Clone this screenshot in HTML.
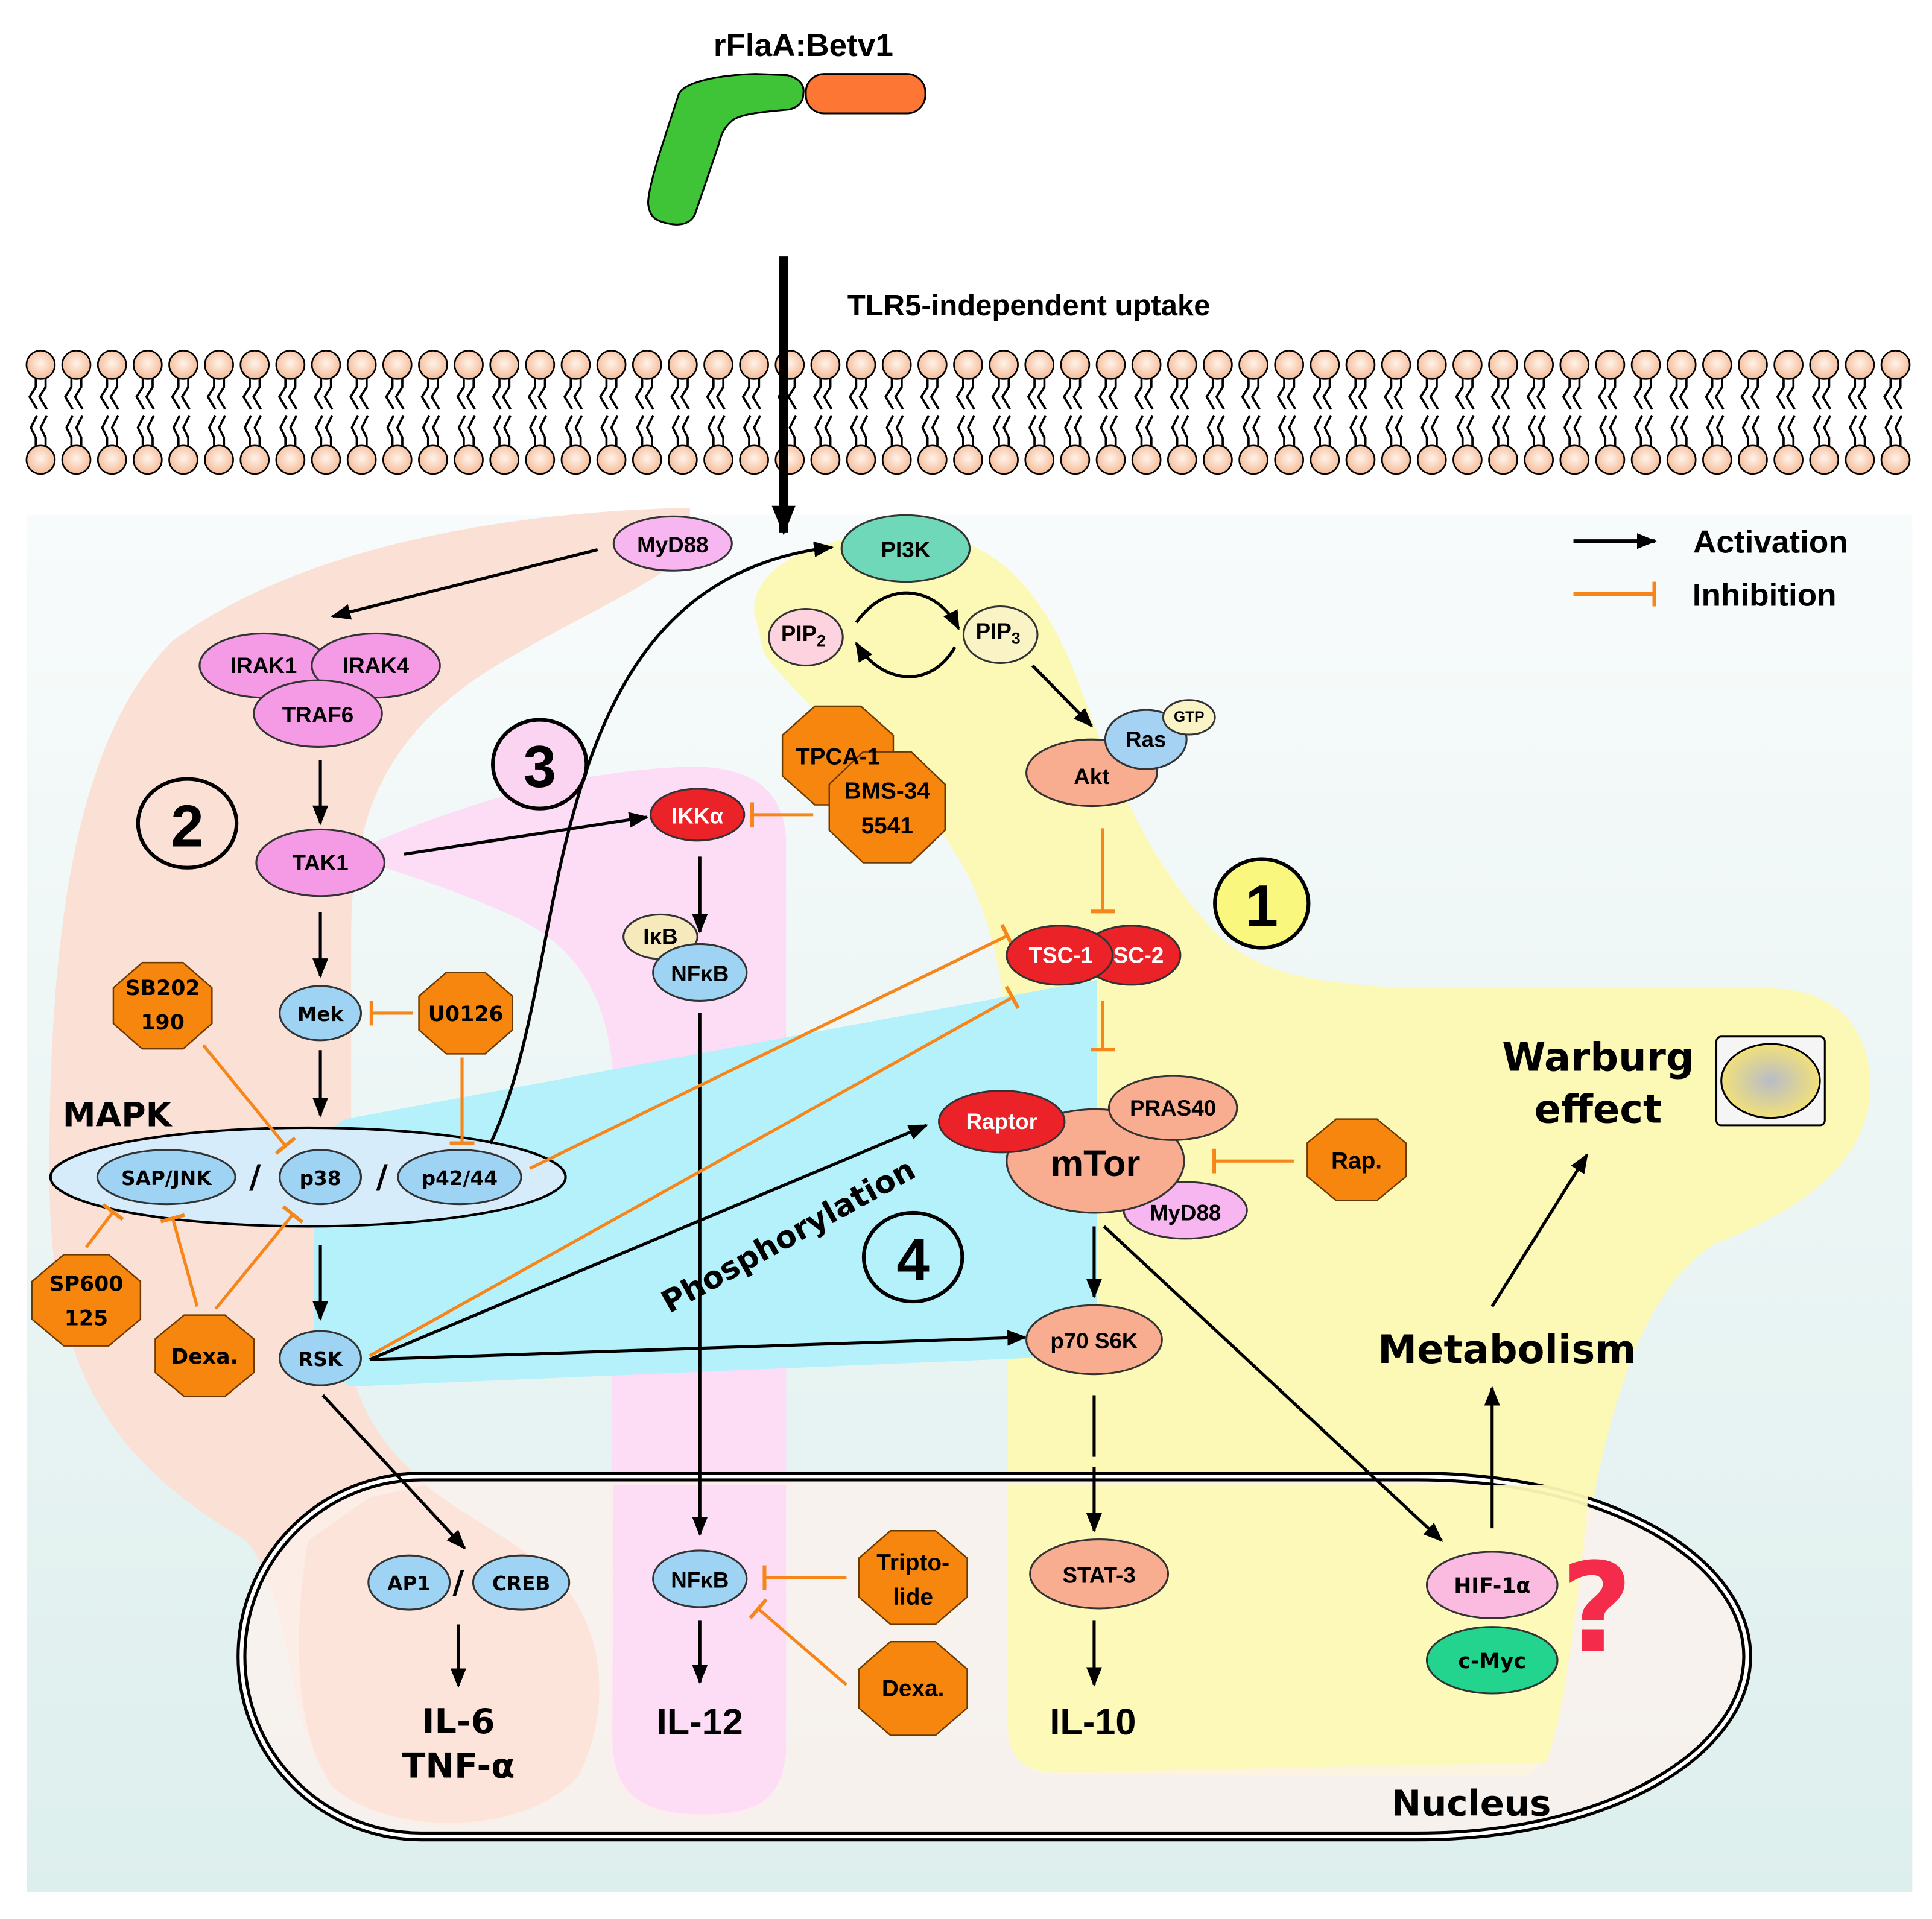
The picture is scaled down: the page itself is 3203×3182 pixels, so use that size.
<!DOCTYPE html>
<html><head><meta charset="utf-8"><style>
html,body{margin:0;padding:0;background:#fff}
svg{display:block}
text{font-family:"Liberation Sans Narrow","Liberation Sans",sans-serif;font-weight:bold;text-anchor:middle;dominant-baseline:central}
.w{font-family:"DejaVu Sans","Liberation Sans",sans-serif}
</style></head><body>
<svg width="3203" height="3182" viewBox="0 0 1568 1557" preserveAspectRatio="none" xmlns="http://www.w3.org/2000/svg">
<defs>
<linearGradient id="bg" x1="0" y1="0" x2="0" y2="1"><stop offset="0" stop-color="#f8fbfb"/><stop offset="1" stop-color="#ddefed"/></linearGradient>
<radialGradient id="head" cx="0.5" cy="0.45" r="0.6"><stop offset="0" stop-color="#fff3ea"/><stop offset="1" stop-color="#f4b690"/></radialGradient>
<radialGradient id="wb" cx="0.5" cy="0.5" r="0.5"><stop offset="0" stop-color="#b8bcc8"/><stop offset="1" stop-color="#f1e07a"/></radialGradient>
<marker id="a" viewBox="0 0 10 10" refX="9" refY="5" markerWidth="16" markerHeight="16" orient="auto" markerUnits="userSpaceOnUse"><path d="M0,1 L10,5 L0,9 z" fill="#000"/></marker>
<marker id="ab" viewBox="0 0 10 10" refX="9" refY="5" markerWidth="24" markerHeight="24" orient="auto" markerUnits="userSpaceOnUse"><path d="M0,1 L10,5 L0,9 z" fill="#000"/></marker>
<marker id="t" viewBox="0 0 4 20" refX="2" refY="10" markerWidth="4" markerHeight="20" orient="auto" markerUnits="userSpaceOnUse"><rect x="0" y="0" width="3" height="20" fill="#f7861a"/></marker>
</defs>

<rect x="22" y="418" width="1530" height="1117" fill="url(#bg)"/>

<g id="mem" stroke="#000" stroke-width="1.8" fill="none"></g>

<path d="M560,412 C420,415 250,440 140,520 C60,600 40,760 40,950 C40,1100 80,1180 200,1250 C240,1300 230,1400 270,1450 C320,1495 430,1490 470,1440 C500,1380 490,1300 430,1260 C360,1220 300,1180 285,1110 L285,760 C285,640 330,580 420,530 C480,495 540,470 560,445 Z" fill="#fbe0d6"/>
<path d="M300,685 C380,650 470,625 560,622 C610,622 635,640 638,680 L638,1420 C635,1460 615,1475 570,1475 C520,1475 495,1455 495,1410 L498,880 C495,800 460,765 420,745 C370,722 330,710 300,700 Z" fill="#fddcf6"/>
<path d="M612,495 C612,460 660,435 730,432 C800,430 840,470 870,540 C900,620 930,700 990,760 C1030,795 1080,802 1200,802 L1440,802 C1510,805 1525,860 1515,905 C1500,960 1440,990 1390,1010 C1330,1050 1300,1150 1280,1300 C1270,1380 1265,1420 1240,1440 L860,1440 C830,1440 818,1425 818,1400 L818,870 C818,790 800,720 760,670 C720,630 640,560 620,530 Z" fill="#fcf9b6"/>
<path d="M255,925 L280,908 L890,795 L890,1095 L830,1102 L285,1125 L255,1110 Z" fill="#b5f1fb"/>

<path d="M342,1198 H1150 C1310,1198 1418,1268 1418,1344 C1418,1420 1310,1490 1150,1490 H342 A146,146 0 0 1 342,1198 Z" fill="#fdf1ec" fill-opacity="0.75" stroke="#000" stroke-width="8"/>
<path d="M342,1198 H1150 C1310,1198 1418,1268 1418,1344 C1418,1420 1310,1490 1150,1490 H342 A146,146 0 0 1 342,1198 Z" fill="none" stroke="#fff" stroke-width="3"/>
<path d="M250,1250 C240,1310 235,1400 270,1450 C320,1492 430,1488 470,1440 C500,1380 490,1300 430,1262 C400,1240 370,1225 345,1205 L300,1215 Z" fill="#fbe0d6" opacity="0.75"/>
<path d="M498,1205 L638,1205 L638,1420 C635,1460 615,1472 570,1472 C520,1472 497,1455 497,1410 Z" fill="#fddcf6" opacity="0.9"/>
<path d="M818,1205 L1290,1205 C1280,1300 1270,1390 1255,1430 L860,1438 C830,1438 818,1425 818,1400 Z" fill="#fcf9b6" opacity="0.95"/>

<path d="M551,76 C556,67 580,61 613,60 L639,61 C650,64 653,70 652,76 C652,83 647,88 639,89 C615,91 600,93 594,98 C587,104 585,110 583,118 L564,174 C561,180 555,183 546,182 C532,180 527,176 526,165 C526,150 540,110 551,76 Z" fill="#3ec436" stroke="#000" stroke-width="1.5"/>
<rect x="654" y="60" width="97" height="32" rx="15" fill="#fd7634" stroke="#000" stroke-width="1.5"/>
<text x="652" y="37" font-size="26" style="font-family:'Liberation Sans',sans-serif">rFlaA:Betv1</text>

<line x1="636" y1="208" x2="636" y2="432" stroke="#000" stroke-width="7" marker-end="url(#ab)"/>
<text x="835" y="248" font-size="24" style="font-family:'Liberation Sans',sans-serif">TLR5-independent uptake</text>

<line x1="1277" y1="439" x2="1343" y2="439" stroke="#000" stroke-width="3" marker-end="url(#a)"/>
<text x="1437" y="440" font-size="26" style="font-family:'Liberation Sans',sans-serif">Activation</text>
<line x1="1277" y1="482" x2="1343" y2="482" stroke="#f7861a" stroke-width="3" marker-end="url(#t)"/>
<text x="1432" y="483" font-size="26" style="font-family:'Liberation Sans',sans-serif">Inhibition</text>

<!-- MAPK ellipse (before connectors) -->
<ellipse cx="250" cy="955" rx="209" ry="40" fill="#d6ecfa" stroke="#000" stroke-width="2"/>

<g stroke="#000" stroke-width="2.5" fill="none">
<line x1="485" y1="446" x2="270" y2="500" marker-end="url(#a)"/>
<line x1="260" y1="617" x2="260" y2="668" marker-end="url(#a)"/>
<line x1="260" y1="740" x2="260" y2="792" marker-end="url(#a)"/>
<line x1="260" y1="852" x2="260" y2="905" marker-end="url(#a)"/>
<line x1="260" y1="1010" x2="260" y2="1070" marker-end="url(#a)"/>
<line x1="328" y1="693" x2="525" y2="663" marker-end="url(#a)"/>
<path d="M398,928 C430,860 440,760 460,680 C490,560 540,460 675,444" marker-end="url(#a)"/>
<line x1="568" y1="695" x2="568" y2="756" marker-end="url(#a)"/>
<line x1="568" y1="822" x2="568" y2="1245" marker-end="url(#a)"/>
<line x1="568" y1="1315" x2="568" y2="1365" marker-end="url(#a)"/>
<path d="M695,505 C720,470 760,475 778,510" marker-end="url(#a)"/>
<path d="M775,525 C755,560 715,555 695,522" marker-end="url(#a)"/>
<line x1="838" y1="540" x2="886" y2="589" marker-end="url(#a)"/>
<line x1="300" y1="1103" x2="752" y2="913" marker-end="url(#a)"/>
<line x1="300" y1="1103" x2="832" y2="1085" marker-end="url(#a)"/>
<line x1="262" y1="1132" x2="377" y2="1256" marker-end="url(#a)"/>
<line x1="372" y1="1318" x2="372" y2="1368" marker-end="url(#a)"/>
<line x1="888" y1="995" x2="888" y2="1052" marker-end="url(#a)"/>
<line x1="896" y1="995" x2="1170" y2="1250" marker-end="url(#a)"/>
<line x1="888" y1="1132" x2="888" y2="1182"/>
<line x1="888" y1="1190" x2="888" y2="1242" marker-end="url(#a)"/>
<line x1="888" y1="1315" x2="888" y2="1367" marker-end="url(#a)"/>
<line x1="1211" y1="1240" x2="1211" y2="1126" marker-end="url(#a)"/>
<line x1="1211" y1="1060" x2="1288" y2="937" marker-end="url(#a)"/>
</g>

<g stroke="#f7861a" stroke-width="2.5" fill="none">
<line x1="660" y1="661" x2="610" y2="661" marker-end="url(#t)"/>
<line x1="895" y1="672" x2="895" y2="740" marker-end="url(#t)"/>
<line x1="895" y1="812" x2="895" y2="852" marker-end="url(#t)"/>
<line x1="1050" y1="942" x2="985" y2="942" marker-end="url(#t)"/>
<line x1="335" y1="822" x2="301" y2="822" marker-end="url(#t)"/>
<line x1="375" y1="858" x2="375" y2="928" marker-end="url(#t)"/>
<line x1="165" y1="848" x2="232" y2="930" marker-end="url(#t)"/>
<line x1="430" y1="948" x2="818" y2="759" marker-end="url(#t)"/>
<line x1="300" y1="1100" x2="822" y2="809" marker-end="url(#t)"/>
<line x1="70" y1="1012" x2="92" y2="983" marker-end="url(#t)"/>
<line x1="160" y1="1060" x2="140" y2="988" marker-end="url(#t)"/>
<line x1="175" y1="1062" x2="238" y2="985" marker-end="url(#t)"/>
<line x1="687" y1="1280" x2="620" y2="1280" marker-end="url(#t)"/>
<line x1="687" y1="1367" x2="615" y2="1305" marker-end="url(#t)"/>
</g>

<text x="95" y="905" font-size="27" class="w">MAPK</text>
<text x="207" y="955" font-size="26" class="w">/</text>
<text x="310" y="955" font-size="26" class="w">/</text>

<g stroke="#333" stroke-width="1.5">
<ellipse cx="546" cy="441" rx="48" ry="22" fill="#f7b6f0"/>
<ellipse cx="214" cy="540" rx="52" ry="26" fill="#f59be6"/>
<ellipse cx="305" cy="540" rx="52" ry="26" fill="#f59be6"/>
<ellipse cx="258" cy="579" rx="52" ry="27" fill="#f59be6"/>
<ellipse cx="260" cy="700" rx="52" ry="27" fill="#f59be6"/>
<ellipse cx="260" cy="822" rx="33" ry="22" fill="#9fd3f3"/>
<ellipse cx="135" cy="955" rx="56" ry="22" fill="#9fd3f3"/>
<ellipse cx="260" cy="955" rx="33" ry="22" fill="#9fd3f3"/>
<ellipse cx="373" cy="955" rx="50" ry="22" fill="#9fd3f3"/>
<ellipse cx="260" cy="1102" rx="33" ry="22" fill="#9fd3f3"/>
<ellipse cx="735" cy="445" rx="52" ry="27" fill="#6fd8b8"/>
<ellipse cx="654" cy="517" rx="30" ry="23" fill="#fcd3df"/>
<ellipse cx="812" cy="515" rx="30" ry="23" fill="#faf3c6"/>
<ellipse cx="886" cy="627" rx="53" ry="27" fill="#f8ad90"/>
<ellipse cx="930" cy="600" rx="33" ry="24" fill="#a5d2f2"/>
<ellipse cx="965" cy="582" rx="21" ry="14" fill="#faf3c6"/>
<ellipse cx="566" cy="661" rx="38" ry="21" fill="#eb2227"/>
<ellipse cx="536" cy="760" rx="30" ry="18" fill="#f6eabd"/>
<ellipse cx="568" cy="789" rx="38" ry="23" fill="#9fd3f3"/>
<ellipse cx="918" cy="775" rx="40" ry="24" fill="#eb2227"/>
<ellipse cx="860" cy="775" rx="43" ry="24" fill="#eb2227"/>
<ellipse cx="962" cy="982" rx="50" ry="23" fill="#f7b6f0"/>
<ellipse cx="889" cy="942" rx="72" ry="42" fill="#f8ad90"/>
<ellipse cx="952" cy="899" rx="52" ry="26" fill="#f8ad90"/>
<ellipse cx="813" cy="910" rx="51" ry="25" fill="#eb2227"/>
<ellipse cx="888" cy="1087" rx="55" ry="28" fill="#f8ad90"/>
<ellipse cx="892" cy="1277" rx="56" ry="28" fill="#f8ad90"/>
<ellipse cx="1211" cy="1286" rx="53" ry="27" fill="#fbbbe0"/>
<ellipse cx="1211" cy="1347" rx="53" ry="27" fill="#22d48e"/>
<ellipse cx="332" cy="1284" rx="33" ry="22" fill="#9fd3f3"/>
<ellipse cx="423" cy="1284" rx="39" ry="22" fill="#9fd3f3"/>
<ellipse cx="568" cy="1281" rx="38" ry="23" fill="#9fd3f3"/>
</g>
<g font-size="18">
<text x="546" y="442">MyD88</text>
<text x="214" y="540">IRAK1</text><text x="305" y="540">IRAK4</text><text x="258" y="580">TRAF6</text>
<text x="260" y="700">TAK1</text>
<text x="735" y="446">PI3K</text>
<text x="652" y="514">PIP<tspan font-size="13" dy="6">2</tspan></text>
<text x="810" y="512">PIP<tspan font-size="13" dy="6">3</tspan></text>
<text x="886" y="630">Akt</text>
<text x="930" y="600">Ras</text>
<text x="965" y="582" font-size="12">GTP</text>
<text x="566" y="662" fill="#fff">IKKα</text>
<text x="536" y="760">IκB</text>
<text x="568" y="790">NFκB</text>
<text x="861" y="775" fill="#fff">TSC-1</text><text x="924" y="775" fill="#fff">SC-2</text>
<text x="813" y="910" fill="#fff">Raptor</text>
<text x="952" y="899">PRAS40</text>
<text x="889" y="944" font-size="30">mTor</text>
<text x="962" y="984">MyD88</text>
<text x="888" y="1088">p70 S6K</text>
<text x="892" y="1278">STAT-3</text>
<text x="568" y="1282">NFκB</text>
</g>
<g font-size="16" class="w">
<text x="260" y="823" class="w">Mek</text>
<text x="135" y="956" class="w">SAP/JNK</text>
<text x="260" y="956" class="w">p38</text>
<text x="373" y="956" class="w">p42/44</text>
<text x="260" y="1103" class="w">RSK</text>
<text x="332" y="1285" class="w">AP1</text>
<text x="423" y="1285" class="w">CREB</text>
<text x="1211" y="1287" class="w" font-size="17">HIF-1α</text>
<text x="1211" y="1348" class="w" font-size="17">c-Myc</text>
</g>
<text x="372" y="1284" font-size="26" class="w">/</text>

<g id="oct" fill="#f7860e" stroke="#6b3a00" stroke-width="1.2"></g>
<g font-size="19">
<text x="680" y="614">TPCA-1</text>
<text x="720" y="642">BMS-34</text><text x="720" y="670">5541</text>
<text x="132" y="802" class="w" font-size="17">SB202</text><text x="132" y="830" class="w" font-size="17">190</text>
<text x="378" y="823" class="w" font-size="17">U0126</text>
<text x="70" y="1042" class="w" font-size="17">SP600</text><text x="70" y="1070" class="w" font-size="17">125</text>
<text x="166" y="1101" class="w" font-size="17">Dexa.</text>
<text x="1101" y="942">Rap.</text>
<text x="741" y="1268">Tripto-</text><text x="741" y="1296">lide</text>
<text x="741" y="1370">Dexa.</text>
</g>

<ellipse cx="152" cy="668" rx="40" ry="36" fill="#fbe0d6" stroke="#000" stroke-width="3"/>
<text x="152" y="670" font-size="48" style="font-family:'Liberation Sans',sans-serif">2</text>
<ellipse cx="438" cy="620" rx="38" ry="36" fill="#fbd4f1" stroke="#000" stroke-width="3"/>
<text x="438" y="622" font-size="48" style="font-family:'Liberation Sans',sans-serif">3</text>
<ellipse cx="1024" cy="733" rx="38" ry="36" fill="#faf77f" stroke="#000" stroke-width="3"/>
<text x="1024" y="735" font-size="48" style="font-family:'Liberation Sans',sans-serif">1</text>
<ellipse cx="741" cy="1020" rx="40" ry="36" fill="#b5f1fb" stroke="#000" stroke-width="3"/>
<text x="741" y="1022" font-size="48" style="font-family:'Liberation Sans',sans-serif">4</text>

<text x="640" y="1003" font-size="25" class="w" transform="rotate(-29 640 1003)">Phosphorylation</text>

<text x="372" y="1397" font-size="28" class="w">IL-6</text>
<text x="372" y="1433" font-size="28" class="w">TNF-α</text>
<text x="568" y="1397" font-size="30">IL-12</text>
<text x="887" y="1397" font-size="30">IL-10</text>
<text x="1194" y="1463" font-size="29" class="w">Nucleus</text>
<text x="1223" y="1095" font-size="32" class="w">Metabolism</text>
<text x="1297" y="858" font-size="32" class="w">Warburg</text>
<text x="1297" y="900" font-size="32" class="w">effect</text>
<rect x="1393" y="841" width="88" height="72" rx="4" fill="#f5f5f5" stroke="#000" stroke-width="1.5"/>
<ellipse cx="1437" cy="877" rx="40" ry="30" fill="url(#wb)" stroke="#000" stroke-width="1.5"/>
<text x="1296" y="1305" font-size="100" fill="#f42b4b" class="w">?</text>
</svg>
<script>
(function(){
 var ns="http://www.w3.org/2000/svg";
 var m=document.getElementById("mem");
 for(var i=0;i<53;i++){
  var x=33+i*28.95;
  var p=document.createElementNS(ns,"path");
  p.setAttribute("d","M"+(x-4)+",307 L"+(x-4)+",314 L"+(x-9)+",322 L"+(x-3)+",332 M"+(x+4)+",307 L"+(x+4)+",314 L"+(x-1)+",322 L"+(x+5)+",332 M"+(x-3)+",337 L"+(x-8)+",347 L"+(x-4)+",355 L"+(x-4)+",363 M"+(x+5)+",337 L"+(x)+",347 L"+(x+4)+",355 L"+(x+4)+",363");
  m.appendChild(p);
  [296,373].forEach(function(y){var c=document.createElementNS(ns,"circle");c.setAttribute("cx",x);c.setAttribute("cy",y);c.setAttribute("r",11.5);c.setAttribute("fill","url(#head)");c.setAttribute("stroke-width","1.3");m.appendChild(c);});
 }
 var o=document.getElementById("oct");
 [[680,613,45,40],[720,655,47,45],[132,816,40,35],[378,822,38,33],[70,1055,44,37],[166,1100,40,33],[1101,941,40,33],[741,1280,44,38],[741,1370,44,38]].forEach(function(d){
  var cx=d[0],cy=d[1],rx=d[2],ry=d[3],pts=[];
  for(var k=0;k<8;k++){var a=Math.PI/8+k*Math.PI/4;pts.push((cx+rx*Math.cos(a)/Math.cos(Math.PI/8))+","+(cy+ry*Math.sin(a)/Math.cos(Math.PI/8)));}
  var p=document.createElementNS(ns,"polygon");p.setAttribute("points",pts.join(" "));o.appendChild(p);
 });
})();
</script>
</body></html>
